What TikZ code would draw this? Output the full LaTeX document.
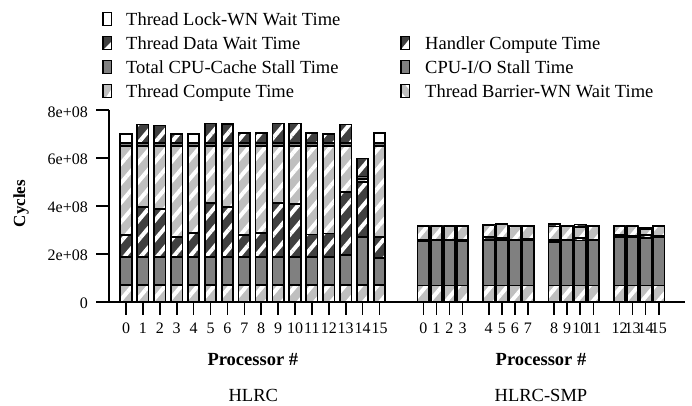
\documentclass[tikz,border=0pt]{standalone}
\usepackage{fontspec}
\setmainfont{Liberation Serif}
\usetikzlibrary{patterns.meta}
\definecolor{lightfill}{gray}{0.75}
\definecolor{midfill}{gray}{0.5}
\definecolor{darkfill}{gray}{0.25}
\tikzset{
  seg/.style={draw=black, line width=1.7pt},
  striped/.style={seg, preaction={fill=#1},
    preaction={pattern={Lines[angle=50,distance=12.5pt,line width=4pt]}, pattern color=white}},
  plainseg/.style={seg, fill=#1},
  axisline/.style={draw=black, line width=1.6pt},
  icon/.style={draw=black, line width=1.4pt},
  legtext/.style={inner sep=0pt, anchor=base west, font=\fontsize{18.5}{22}\selectfont},
  ticktext/.style={inner sep=0pt, font=\fontsize{16}{19}\selectfont},
  titletext/.style={inner sep=0pt, anchor=base, font=\fontsize{18.5}{22}\selectfont\bfseries},
  grouptext/.style={inner sep=0pt, anchor=base, font=\fontsize{18.5}{22}\selectfont},
}
\begin{document}
\begin{tikzpicture}[x=1pt,y=1pt]
\useasboundingbox (0,0) rectangle (692,405);

% ---------------- legend ----------------
% column 1
\path[icon, fill=white] (103,379.5) rectangle (111.5,392.5);
\node[legtext] (leg1) at (126,379.5) {Thread Lock-WN Wait Time};
\fill[darkfill] (103,355.5) rectangle (111.5,368.5);
\fill[white] (103.5,355.5) -- (111.5,355.5) -- (111.5,363.5) -- cycle;
\path[icon] (103,355.5) rectangle (111.5,368.5);
\node[legtext] (leg2) at (126,355.5) {Thread Data Wait Time};
\path[icon, fill=midfill] (103,331.5) rectangle (111.5,344.5);
\node[legtext] (leg3) at (126,331.5) {Total CPU-Cache Stall Time};
\fill[lightfill] (103,307.5) rectangle (111.5,320.5);
\fill[white] (106,307.5) -- (111.5,307.5) -- (111.5,316) -- cycle;
\path[icon] (103,307.5) rectangle (111.5,320.5);
\node[legtext] (leg4) at (126,307.5) {Thread Compute Time};
% column 2
\fill[darkfill] (401,355.5) rectangle (409.5,368.5);
\fill[white] (401,355.5) -- (409.5,355.5) -- (409.5,366) -- cycle;
\path[icon] (401,355.5) rectangle (409.5,368.5);
\node[legtext] (leg5) at (425,355.5) {Handler Compute Time};
\path[icon, fill=midfill] (401,331.5) rectangle (409.5,344.5);
\node[legtext] (leg6) at (425,331.5) {CPU-I/O Stall Time};
\fill[lightfill] (401,307.5) rectangle (409.5,320.5);
\fill[white] (401,307.5) -- (406,307.5) -- (401,313) -- cycle;
\fill[white] (405,320.5) -- (409.5,320.5) -- (409.5,315) -- cycle;
\path[icon] (401,307.5) rectangle (409.5,320.5);
\node[legtext] (leg7) at (425,307.5) {Thread Barrier-WN Wait Time};

% ---------------- bars (values in units of 1e8 cycles) ----------------
\begin{scope}[shift={(0,103.3)}, y=23.96pt]
  % HLRC: sixteen separate bars
  \foreach \i/\b/\c/\t/\tc in {
      0/1.88/2.78/7.00/white,    1/1.88/3.94/7.39/darkfill,
      2/1.88/3.86/7.36/darkfill, 3/1.88/2.71/6.99/darkfill,
      4/1.88/2.88/7.00/white,    5/1.88/4.11/7.44/darkfill,
      6/1.88/3.94/7.42/darkfill, 7/1.88/2.78/7.03/darkfill,
      8/1.88/2.88/7.03/darkfill, 9/1.88/4.11/7.44/darkfill,
      10/1.88/4.08/7.44/darkfill, 11/1.88/2.80/7.03/darkfill,
      12/1.88/2.85/7.00/darkfill, 13/1.95/4.59/7.39/darkfill,
      15/1.81/2.71/7.03/white} {
    \pgfmathsetmacro\xl{126+16.9*\i-5.7}
    \pgfmathsetmacro\xr{\xl+11.4}
    \path[striped=lightfill] (\xl,0) rectangle (\xr,0.70);
    \path[plainseg=midfill] (\xl,0.70) rectangle (\xr,\b);
    \path[striped=darkfill] (\xl,\b) rectangle (\xr,\c);
    \path[striped=lightfill] (\xl,\c) rectangle (\xr,6.50);
    \path[plainseg=midfill] (\xl,6.50) rectangle (\xr,6.62);
    \path[striped=\tc] (\xl,6.62) rectangle (\xr,\t);
  }
  % processor 14 of HLRC
  \pgfmathsetmacro\xl{126+16.9*14-5.7}
  \pgfmathsetmacro\xr{\xl+11.4}
  \path[striped=lightfill] (\xl,0) rectangle (\xr,0.70);
  \path[plainseg=midfill] (\xl,0.70) rectangle (\xr,2.71);
  \path[striped=darkfill] (\xl,2.71) rectangle (\xr,5.00);
  \path[striped=lightfill] (\xl,5.00) rectangle (\xr,5.12);
  \path[plainseg=midfill] (\xl,5.12) rectangle (\xr,5.22);
  \path[striped=darkfill] (\xl,5.22) rectangle (\xr,5.98);

  % HLRC-SMP: four groups of four adjacent bars
  \foreach \j/\m/\a/\t/\u in {
      0/2.53/2.58/3.16/3.16, 1/2.55/2.58/3.16/3.16,
      2/2.55/2.58/3.16/3.16, 3/2.53/2.58/3.16/3.16,
      4/2.57/2.71/3.20/3.20, 5/2.57/2.66/3.24/3.24,
      6/2.57/2.60/3.16/3.16, 7/2.57/2.62/3.16/3.16,
      8/2.50/2.58/3.14/3.24, 9/2.55/2.58/3.16/3.16,
      10/2.55/2.66/3.12/3.22, 11/2.55/2.58/3.16/3.16,
      12/2.69/2.78/3.16/3.16, 13/2.69/2.73/3.16/3.16,
      14/2.66/2.78/3.02/3.09, 15/2.69/2.73/3.16/3.16} {
    \pgfmathtruncatemacro\slot{\j+floor(\j/4)}
    \pgfmathsetmacro\xl{423.3+13.08*\slot-5.7}
    \pgfmathsetmacro\xr{\xl+11.4}
    \path[striped=lightfill] (\xl,0) rectangle (\xr,0.68);
    \path[plainseg=midfill] (\xl,0.68) rectangle (\xr,\m);
    \path[striped=darkfill] (\xl,\m) rectangle (\xr,\a);
    \path[striped=lightfill] (\xl,\a) rectangle (\xr,\t);
    \path[striped=darkfill] (\xl,\t) rectangle (\xr,\u);
  }
\end{scope}

% ---------------- axes ----------------
\coordinate (origin) at (109,103.3);
\coordinate (ytop) at (109,295);
\coordinate (xend) at (685,103.3);
\draw[axisline] (origin) -- (ytop);
\draw[axisline] (96,103.3) -- (xend);

% y ticks and labels
\foreach \k/\lab in {0/0, 1/2e+08, 2/4e+08, 3/6e+08, 4/8e+08} {
  \pgfmathsetmacro\yy{103.3+47.92*\k}
  \draw[axisline] (96,\yy) -- (109,\yy);
  \node[ticktext, anchor=base east] (ylab\k) at (88,\yy-7) {\lab};
}
\node[inner sep=0pt, rotate=90, font=\fontsize{17}{20}\selectfont\bfseries] (cycles) at (21,201.5) {Cycles};

% x ticks and processor numbers
\foreach \i in {0,...,15} {
  \pgfmathsetmacro\xx{126+16.9*\i}
  \draw[axisline] (\xx,103.3) -- (\xx,90);
  \node[ticktext, anchor=base] (pa\i) at (\xx,71.6) {\i};
  \pgfmathtruncatemacro\slot{\i+floor(\i/4)}
  \pgfmathsetmacro\xs{423.3+13.08*\slot}
  \draw[axisline] (\xs,103.3) -- (\xs,90);
  \node[ticktext, anchor=base] (pb\i) at (\xs,71.6) {\i};
}

\node[titletext] (procA) at (252.8,40) {Processor \#};
\node[titletext] (procB) at (541,40) {Processor \#};
\node[grouptext] (hlrc) at (253.3,3.5) {HLRC};
\node[grouptext] (hlrcsmp) at (541,3.5) {HLRC-SMP};
\end{tikzpicture}
\end{document}
